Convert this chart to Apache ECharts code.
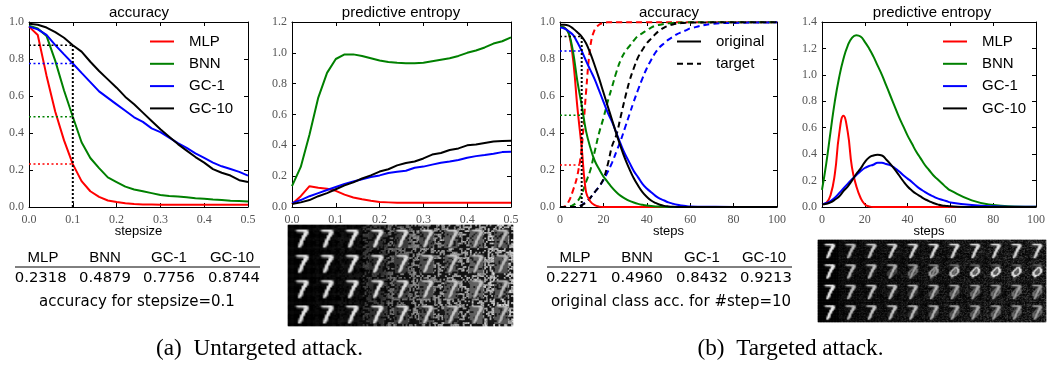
<!DOCTYPE html>
<html><head><meta charset="utf-8">
<script src="https://cdn.jsdelivr.net/npm/echarts@6/dist/echarts.min.js"></script>
<style>html,body{margin:0;padding:0;background:#fff}#c{width:1048px;height:366px}</style>
</head><body><div id="c"></div>
<script>
const names = ['MLP','BNN','GC-1','GC-10'];
const colors = ['#ff0000','#008000','#0000ff','#000000'];
const tableA = [0.2318,0.4879,0.7756,0.8744];
const tableC = [0.2271,0.4960,0.8432,0.9213];

const stepsize = [0,.02,.04,.06,.08,.1,.12,.14,.16,.18,.2,.22,.24,.26,.28,.3,.32,.34,.36,.38,.4,.42,.44,.46,.48,.5];
const steps = [0,2,4,6,8,10,12,14,16,18,20,22,24,26,28,30,32,34,36,38,40,42,44,46,48,50,52,54,56,58,60,70,80,90,100];

const accMlp = [.975,.93,.71,.515,.36,.2318,.14,.085,.055,.035,.027,.02,.016,.014,.013,.012,.012,.012,.012,.012,.012,.012,.012,.012,.012,.012];
const accBnn = [.98,.965,.925,.79,.63,.4879,.35,.265,.21,.16,.135,.11,.095,.085,.075,.065,.06,.057,.053,.047,.045,.04,.038,.034,.032,.03];
const accGc1 = [.975,.96,.93,.875,.825,.7756,.725,.675,.625,.59,.555,.52,.485,.46,.425,.405,.375,.345,.32,.29,.265,.24,.22,.205,.19,.17];
const accGc10 = [.99,.985,.97,.945,.915,.8744,.84,.785,.735,.69,.645,.595,.555,.51,.465,.42,.38,.34,.305,.27,.24,.205,.185,.17,.145,.135];

const entMlp = [.02,.07,.135,.125,.118,.105,.08,.062,.05,.04,.032,.03,.028,.027,.027,.027,.027,.027,.027,.027,.027,.027,.027,.027,.027,.027];
const entBnn = [.135,.26,.47,.71,.87,.96,.99,.99,.98,.965,.95,.94,.935,.933,.933,.935,.945,.955,.965,.98,1.0,1.015,1.035,1.06,1.075,1.1];
const entGc1 = [.025,.045,.07,.09,.11,.13,.15,.165,.18,.195,.205,.22,.228,.235,.255,.262,.275,.287,.295,.305,.32,.33,.337,.345,.356,.358];
const entGc10 = [.02,.03,.045,.07,.09,.115,.14,.16,.185,.205,.23,.245,.27,.285,.295,.315,.34,.35,.37,.38,.4,.405,.415,.425,.428,.43];

const origMlp = [.975,.97,.94,.80,.54,.32,.08,.03,.01,.002,0,0,0,0,0,0,0,0,0,0,0,0,0,0,0,0,0,0,0,0,0,0,0,0,0];
const origBnn = [.975,.97,.94,.84,.68,.55,.41,.32,.25,.205,.165,.135,.105,.08,.06,.045,.033,.024,.017,.012,.008,.005,.003,.002,.001,0,0,0,0,0,0,0,0,0,0];
const origGc1 = [.97,.965,.95,.93,.89,.8432,.79,.74,.69,.63,.57,.51,.46,.40,.34,.285,.24,.195,.16,.125,.10,.08,.06,.045,.035,.025,.018,.012,.008,.005,.003,.001,0,0,0];
const origGc10 = [.985,.985,.98,.965,.945,.9213,.885,.83,.765,.695,.62,.545,.47,.395,.325,.26,.205,.155,.115,.08,.055,.035,.022,.012,.006,.003,.001,0,0,0,0,0,0,0,0];

const tgtMlp = [0,.002,.03,.09,.17,.32,.62,.87,.96,.985,.995,.998,.998,.998,.998,.998,.998,.998,.998,.998,.998,.998,.998,.998,.998,.998,.998,.998,.998,.998,.998,.998,.998,.998,.998];
const tgtBnn = [0,0,.002,.01,.03,.07,.135,.20,.30,.40,.48,.57,.65,.73,.795,.84,.87,.90,.925,.94,.955,.97,.98,.985,.99,.993,.995,.996,.997,.998,.998,.999,.999,.999,.999];
const tgtGc1 = [0,0,0,0,.002,.01,.03,.05,.08,.11,.146,.19,.24,.30,.36,.43,.50,.57,.635,.695,.75,.795,.835,.865,.885,.905,.92,.935,.945,.955,.965,.99,.995,.997,.998];
const tgtGc10 = [0,0,0,0,.002,.01,.025,.05,.08,.11,.15,.23,.33,.39,.49,.59,.68,.75,.81,.85,.885,.91,.935,.955,.97,.98,.987,.991,.994,.996,.997,.998,.999,.999,.999];

const ent2Mlp = [.02,.03,.09,.25,.55,.69,.57,.30,.16,.07,.02,.005,0,0,0,0,0,0,0,0,0,0,0,0,0,0,0,0,0,0,0,0,0,0,0];
const ent2Bnn = [.13,.33,.57,.80,.98,1.12,1.22,1.28,1.30,1.29,1.25,1.20,1.14,1.07,1.00,.92,.84,.76,.68,.61,.54,.48,.42,.37,.32,.28,.24,.21,.18,.15,.125,.05,.015,.004,.001];
const ent2Gc1 = [.02,.03,.045,.07,.105,.14,.175,.21,.24,.27,.295,.31,.32,.335,.335,.325,.315,.295,.27,.24,.215,.19,.16,.135,.115,.095,.08,.065,.055,.045,.035,.015,.005,.002,.001];
const ent2Gc10 = [.02,.025,.035,.055,.08,.12,.155,.20,.25,.29,.34,.375,.39,.395,.39,.36,.325,.285,.24,.195,.155,.125,.10,.08,.06,.045,.03,.02,.012,.008,.005,0,0,0,0];

// image strips: hand-read brightness per column (0-255)
const noiseA = [0,10,20,70,130,165,185,205,225];
const digitA = [235,235,235,235,225,215,205,200,190];
const patchA = [0,5,14,45,60,75,85,95,85];
const noiseD = [0,30,38,42,48,52,58,62,68,72,78];
const digitD = [240,190,205,215,220,225,225,225,225,225,225];
const ringD = [0,0,.1,.3,.5,.7,.85,.95,1,1,1];
const ringRows = [0,1,.5,.45];

const digit7 = ["00000000000000","00000000000000","00000000000000","00002799999500","00000233479800","00000000099500","00000000798000","00000000990000","00000006960000","00000009800000","00000049700000","00000079400000","00000095000000","00000000000000"];
const ring0 = ["00000000000000","00000000000000","00000000000000","00000000000000","00000000000000","00000000899000","00000008809800","00000088008800","00000880008800","00000880088000","00000889980000","00000088000000","00000000000000","00000000000000"];
const speckleA = ["3f81c62ea9047db5","b05e97d14a2f68c3","6c2a0fe8531d9b74","e4793bd6082fa1c5","18d5f2604ce7ab39","97a3c0e1b5f46d28","4eb1287fd03c96a5","d2067a9c6e41fb38","5f93ebd4a1780c26","a8406f13c7d295eb","2c7ed9b5f3068a41","f1b6483a09ec7d52","7d0a95c12fb6e384","39e2c7486bd1f0a5","c45fa01e97382b6d","0b68dfe3247a9c15"];
const speckleB = ["50c3a9e","d27f160","8e41bc3","37a09d5","f6c2e81","1b9745a","c40d3f6"];

function bitmapAt(bm, x, y) {
  const v = (i, j) => parseInt((bm[Math.min(j, 13)] || '')[Math.min(i, 13)] || '0', 16) / 9;
  const i = x >> 1, j = y >> 1, fx = (x & 1) / 2, fy = (y & 1) / 2;
  return (v(i,j)*(1-fx)+v(i+1,j)*fx)*(1-fy) + (v(i,j+1)*(1-fx)+v(i+1,j+1)*fx)*fy;
}
function speckle(x, y) {
  return (parseInt(speckleA[y % 16][x % 16], 16) ^ parseInt(speckleB[y % 7][x % 7], 16)) / 15;
}
function stripCells(cols, cellFn) {
  const out = [];
  for (let r = 0; r < 4; r++) for (let c = 0; c < cols; c++)
    for (let y = 0; y < 28; y++) for (let x = 0; x < 28; x++)
      out.push([c*28 + x, r*28 + y, Math.min(255, Math.round(cellFn(r, c, x, y)))]);
  return out;
}
const cellsA = stripCells(9, (r, c, x, y) => {
  const d = bitmapAt(digit7, x, y) * digitA[c];
  const inBox = x >= 7 && x <= 22 && y >= 6 && y <= 25;
  const big = speckle((c*28 + x) >> 1, (r*28 + y) >> 1);
  const fine = speckle(c*28 + x, r*28 + y);
  const n = big > 0.5 ? noiseA[c] * (0.55 + 0.45*fine) : noiseA[c] * 0.08;
  const bg = inBox ? patchA[c] * (big > 0.22 ? 1 : 0.25) : n;
  return Math.max(d, bg);
});
const cellsD = stripCells(11, (r, c, x, y) => {
  const k = ringD[c] * ringRows[r];
  const d = bitmapAt(digit7, x, y) * digitD[c] * (1 - 0.55 * k);
  const g = bitmapAt(ring0, x, y) * 240 * k;
  const s = speckle(c*28 + x + 5, r*28 + y + 3);
  return Math.max(d, g, s * s * noiseD[c]);
});
const idx = n => Array.from({length:n}, (_, i) => i);

const tick = {color:'#555', fontFamily:'Liberation Serif', fontSize:12};
const fmt1 = v => v.toFixed(1);
const axisBase = {splitLine:{show:false}, axisLine:{onZero:false, lineStyle:{color:'#000', width:1}}, axisTick:{inside:true, length:4, lineStyle:{color:'#000', width:1}}};
const axisNameStyle = {fontFamily:'Liberation Sans', fontSize:13, color:'#000'};

const grids = [
  {left:29, top:22, width:219, height:185},
  {left:292, top:22, width:219, height:185},
  {left:560, top:22, width:217, height:185},
  {left:822, top:22, width:219, height:185},
  {left:288, top:225, width:225, height:101},
  {left:818, top:240, width:228, height:82}
];
const panelAxes = [
  {xMax:.5, xInt:.1, yMax:1.0, name:'stepsize', xf:fmt1},
  {xMax:.5, xInt:.1, yMax:1.2, name:'', xf:fmt1},
  {xMax:100, xInt:20, yMax:1.0, name:'steps', xf:v=>String(v)},
  {xMax:100, xInt:20, yMax:1.4, name:'steps', xf:v=>String(v)}
];
const xAxis = [], yAxis = [];
panelAxes.forEach((p, i) => {
  xAxis.push({...axisBase, type:'value', gridIndex:i, position:'bottom', min:0, max:p.xMax, interval:p.xInt,
    axisLabel:{...tick, margin:7, formatter:p.xf, showMinLabel:true, showMaxLabel:true},
    name:p.name, nameLocation:'middle', nameGap:18, nameTextStyle:axisNameStyle, nameMoveOverlap:false});
  xAxis.push({...axisBase, type:'value', gridIndex:i, position:'top', min:0, max:p.xMax, interval:p.xInt, axisLabel:{show:false}});
  yAxis.push({...axisBase, type:'value', gridIndex:i, position:'left', min:0, max:p.yMax, interval:.2,
    axisLabel:{...tick, margin:5, formatter:fmt1, showMinLabel:true, showMaxLabel:true}});
  yAxis.push({...axisBase, type:'value', gridIndex:i, position:'right', min:0, max:p.yMax, interval:.2, axisLabel:{show:false}});
});
[[4, 9], [5, 11]].forEach(([g, cols]) => {
  xAxis.push({type:'category', gridIndex:g, data:idx(cols*28), show:false});
  yAxis.push({type:'category', gridIndex:g, data:idx(112), inverse:true, show:false});
});

function curve(name, xs, ys, color, panel, dashed, smooth) {
  return {type:'line', name, xAxisIndex:panel*2, yAxisIndex:panel*2, symbol:'none', smooth:smooth||false, silent:true,
    data: xs.map((x, i) => [x, ys[i]]),
    itemStyle:{color},
    lineStyle:{color, width:2, type: dashed ? [6,4] : 'solid'}};
}
function guides(panel, x, values) {
  const list = values.map((v, i) => ({type:'line', name:'guide', xAxisIndex:panel*2, yAxisIndex:panel*2, symbol:'none', silent:true,
    data:[[0, v], [x, v]], lineStyle:{color:colors[i], width:1.5, type:[2,2.5]}}));
  list.push({type:'line', name:'guide', xAxisIndex:panel*2, yAxisIndex:panel*2, symbol:'none', silent:true,
    data:[[x, 0], [x, values[3]]], lineStyle:{color:'#000', width:2, type:[2,2]}});
  return list;
}
const series = [];
[accMlp, accBnn, accGc1, accGc10].forEach((d, i) => series.push(curve(names[i], stepsize, d, colors[i], 0)));
series.push(...guides(0, .1, tableA));
[entMlp, entBnn, entGc1, entGc10].forEach((d, i) => series.push(curve(names[i], stepsize, d, colors[i], 1)));
[tgtMlp, tgtBnn, tgtGc1, tgtGc10].forEach((d, i) => series.push(curve(names[i]+' target', steps, d, colors[i], 2, true, .4)));
[origMlp, origBnn, origGc1, origGc10].forEach((d, i) => series.push(curve(names[i]+' original', steps, d, colors[i], 2, false, .4)));
series.push(...guides(2, 10, tableC));
series.push(curve('original', [], [], '#000', 2));
series.push(curve('target', [], [], '#000', 2, true));
[ent2Mlp, ent2Bnn, ent2Gc1, ent2Gc10].forEach((d, i) => series.push(curve(names[i], steps, d, colors[i], 3, false, .5)));
const heatStart = series.length;
series.push({type:'heatmap', xAxisIndex:8, yAxisIndex:8, data:cellsA, progressive:0, silent:true, emphasis:{disabled:true}});
series.push({type:'heatmap', xAxisIndex:9, yAxisIndex:9, data:cellsD, progressive:0, silent:true, emphasis:{disabled:true}});

const titleStyle = {fontFamily:'Liberation Sans', fontSize:15, fontWeight:'normal', color:'#000'};
const title = [[139,'accuracy'],[401,'predictive entropy'],[669,'accuracy'],[932,'predictive entropy']]
  .map(([x, t]) => ({text:t, left:x, top:5, textAlign:'center', padding:0, textStyle:titleStyle}));

function legend(left, data) {
  return {left, top:34, orient:'vertical', padding:0, itemWidth:24, itemHeight:14, itemGap:7.3, data, selectedMode:false,
    itemStyle:{opacity:0},
    textStyle:{fontFamily:'Liberation Sans', fontSize:15, color:'#000', padding:[0,0,0,10]}};
}

function text(x, y, t, font, size, align) {
  return {type:'text', x, y, silent:true, style:{text:t, fill:'#000', font:`${size}px "${font}"`, textAlign:align||'center', textVerticalAlign:'middle'}};
}
const graphics = [];
function table(heads, valuesX, values, rule, capX, cap) {
  names.forEach((n, i) => graphics.push(text(heads[i], 258, n, 'Liberation Sans', 15)));
  values.forEach((v, i) => graphics.push(text(valuesX[i], 278, v.toFixed(4), 'DejaVu Sans', 14.8)));
  graphics.push({type:'line', silent:true, shape:{x1:rule[0], y1:267, x2:rule[1], y2:267}, style:{stroke:'#000', lineWidth:1}});
  graphics.push(text(capX, 302, cap, 'DejaVu Sans', 15));
}
table([43,105,169,232],[40.7,105,169,234],tableA,[15,260],137,'accuracy for stepsize=0.1');
table([575,637,702,764],[572,637,702,766],tableC,[547,792],671,'original class acc. for #step=10');
graphics.push(text(259.5, 349, '(a)  Untargeted attack.', 'Liberation Serif', 23.2));
graphics.push(text(790.5, 349, '(b)  Targeted attack.', 'Liberation Serif', 23.2));

const chart = echarts.init(document.getElementById('c'), null, {renderer:'canvas'});
chart.setOption({
  animation:false, backgroundColor:'#fff',
  title, grid:grids, xAxis, yAxis, series,
  legend:[legend(149,names), legend(676,['original','target']), legend(942,names)],
  visualMap:{show:false, type:'continuous', min:0, max:255, dimension:2, seriesIndex:[heatStart, heatStart+1], inRange:{color:['#000000','#ffffff']}},
  graphic:graphics
});
</script></body></html>
